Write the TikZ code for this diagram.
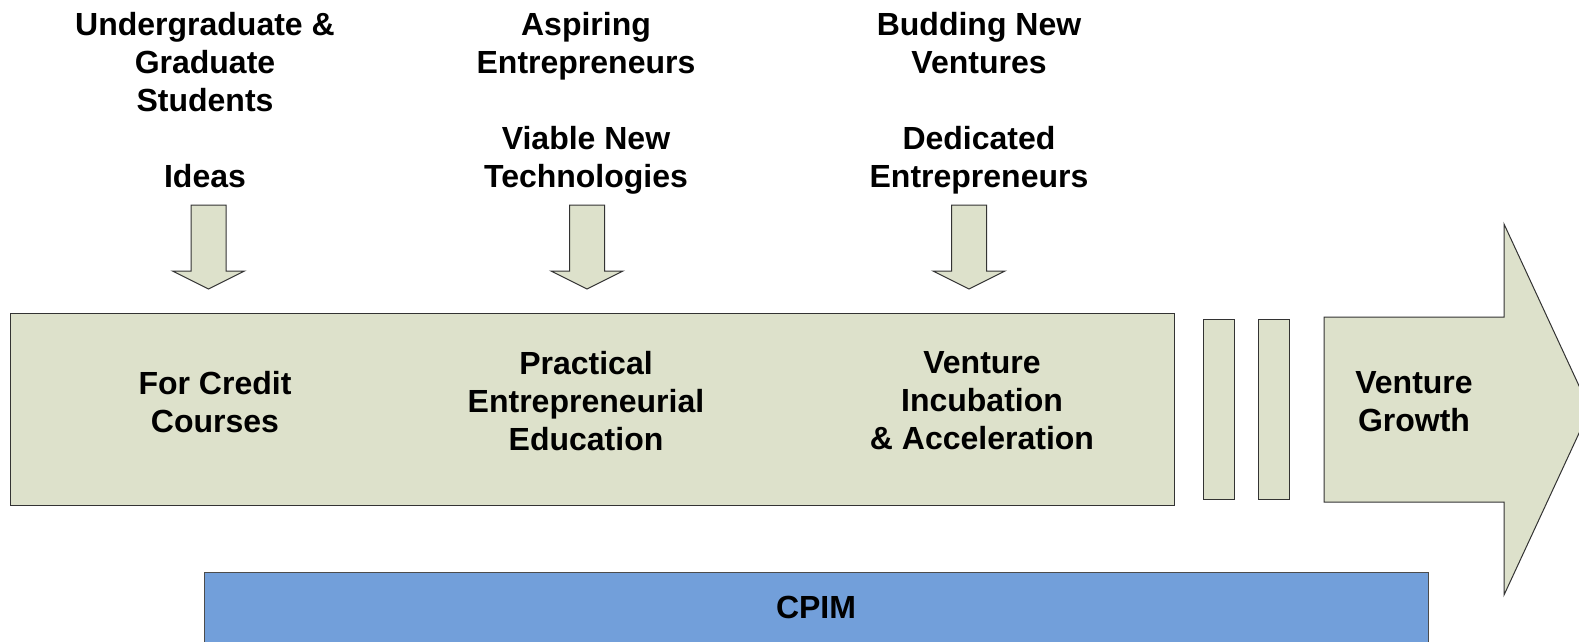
\documentclass[tikz,border=0pt]{standalone}
\usepackage{fontspec}
\setmainfont{Liberation Sans}
\usetikzlibrary{positioning}
\definecolor{sage}{HTML}{DDE1CB}
\definecolor{cpimblue}{HTML}{729FDA}

\begin{document}
\begin{tikzpicture}[x=1pt, y=-1pt, font=\fontsize{32}{38}\selectfont\bfseries,
    toptext/.style={align=center, anchor=north, inner sep=0pt},
    stagebox/.style={draw=black!80, fill=sage, line width=1pt, inner sep=0pt}]
    \clip (0,0) rectangle (1579,642);
    % stages
    \node (stages) [stagebox, minimum width=1164pt, minimum height=192pt] at (592,409) {};
    \node (gapA) [stagebox, minimum width=31pt, minimum height=180pt] at (1218.5,409) {};
    \node (gapB) [stagebox, minimum width=31pt, minimum height=180pt] at (1273.5,409) {};
    \draw [stagebox] (1324,317) -- (1504,317) -- (1504,224) -- (1590,409.5) -- (1504,595) -- (1504,502) -- (1324,502) -- cycle;
    \node (cpim) [draw=black!70, fill=cpimblue, line width=1pt, minimum width=1224pt, minimum height=90pt, anchor=north west] at (204,572) {};
    % inputs
    \foreach \cx in {208.5, 587, 969}
        \draw [stagebox] (\cx-17.5,205) -- (\cx+17.5,205) -- (\cx+17.5,271) -- (\cx+36,271) -- (\cx,289) -- (\cx-36,271) -- (\cx-17.5,271) -- cycle;
    % texts
    \node (students) [toptext] at (205,12.5) {Undergraduate \&\\Graduate\\Students\\[38pt]Ideas};
    \node (aspiring) [toptext] at (586,12.5) {Aspiring\\Entrepreneurs\\[38pt]Viable New\\Technologies};
    \node (budding) [toptext] at (979,12.5) {Budding New\\Ventures\\[38pt]Dedicated\\Entrepreneurs};
    \node (credit) [toptext] at (215,371.5) {For Credit\\Courses};
    \node (practical) [toptext] at (586,351.5) {Practical\\Entrepreneurial\\Education};
    \node (incubation) [toptext] at (982,351.5) {Venture\\Incubation\\\& Acceleration};
    \node (growth) [toptext] at (1414,371.5) {Venture\\Growth};
    \node (cpimtext) [toptext] at (816,595.5) {CPIM};
\end{tikzpicture}
\end{document}
